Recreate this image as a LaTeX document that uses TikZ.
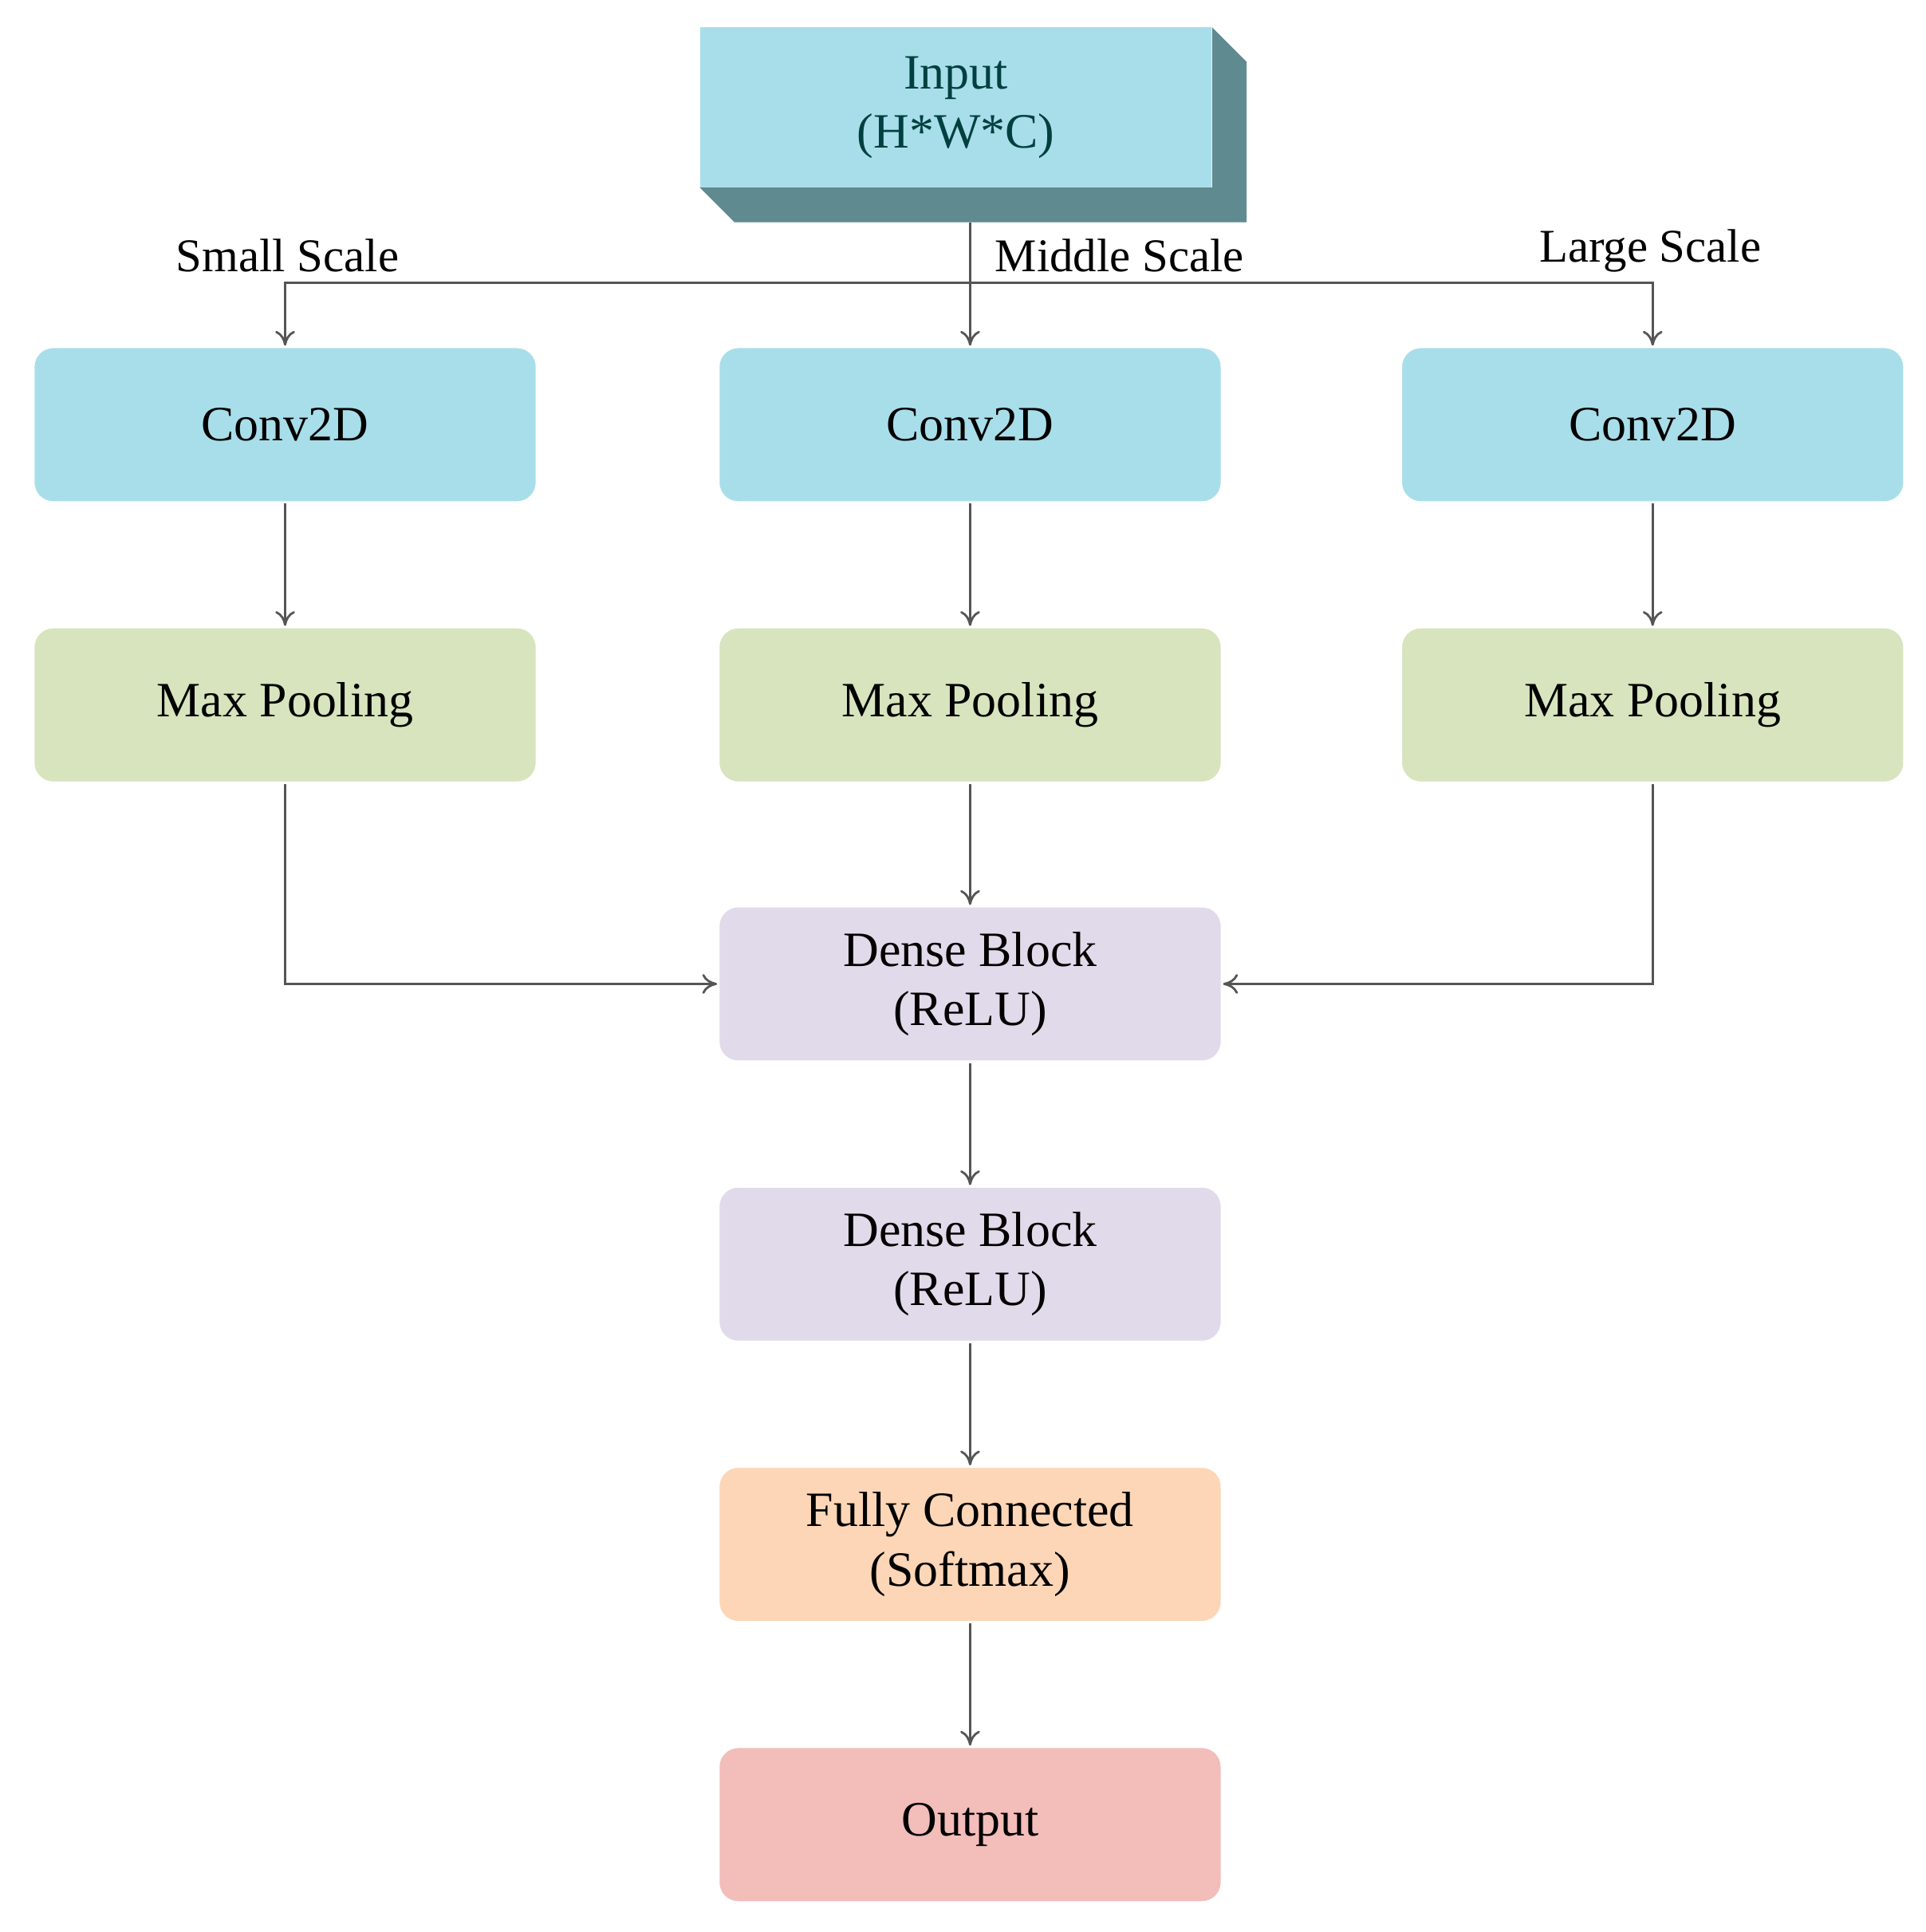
\documentclass[tikz,border=0pt]{standalone}
\usepackage{fontspec}
\setmainfont{Liberation Serif}
\usetikzlibrary{arrows.meta}
\definecolor{cy}{HTML}{A8DEEA}
\definecolor{gr}{HTML}{D7E4BD}
\definecolor{lv}{HTML}{E1DAEA}
\definecolor{pc}{HTML}{FCD6B6}
\definecolor{pk}{HTML}{F3BDBA}
\definecolor{sd}{HTML}{5F8A90}
\definecolor{ln}{HTML}{555555}
\begin{document}
\begin{tikzpicture}[x=0.5pt,y=-0.5pt,
 box/.style={rounded corners=8pt,minimum width=204pt,minimum height=63pt,align=center,font=\fontsize{20}{24}\selectfont,draw=white,line width=1pt},
 ar/.style={draw=ln,line width=0.9pt,-{To[length=6pt,width=8pt]}},
 lab/.style={font=\fontsize{19}{22}\selectfont}]
\useasboundingbox (0,0) rectangle (1560,1565);
% input 3D box
\fill[sd] (567,152) -- (595,180) -- (1010,180) -- (1010,50) -- (982,22) -- (982,152) -- cycle;
\node[box,rounded corners=0pt,fill=cy,minimum width=207pt,minimum height=65pt,text=teal!50!black,draw=none] (in) at (774.5,87) {Input\\(H*W*C)};
\node[box,fill=cy] (c1) at (231,344) {Conv2D};
\node[box,fill=cy] (c2) at (786,344) {Conv2D};
\node[box,fill=cy] (c3) at (1339,344) {Conv2D};
\node[box,fill=gr] (m1) at (231,571) {Max Pooling};
\node[box,fill=gr] (m2) at (786,571) {Max Pooling};
\node[box,fill=gr] (m3) at (1339,571) {Max Pooling};
\node[box,fill=lv] (d1) at (786,797) {Dense Block\\(ReLU)};
\node[box,fill=lv] (d2) at (786,1024) {Dense Block\\(ReLU)};
\node[box,fill=pc] (fc) at (786,1251) {Fully Connected\\(Softmax)};
\node[box,fill=pk] (out) at (786,1478) {Output};
\coordinate (top) at (786,180);
\coordinate (jn) at (786,229);
\draw[draw=ln,line width=0.9pt] (top) -- (jn);
\draw[ar] (jn) -- (c2.north);
\draw[ar] (jn) -| (c1.north);
\draw[ar] (jn) -| (c3.north);
\node[lab] (s) at (233,207) {Small Scale};
\node[lab] (mi) at (907,207) {Middle Scale};
\node[lab] (l) at (1337,203) {Large Scale};
\draw[ar] (c1) -- (m1);
\draw[ar] (c2) -- (m2);
\draw[ar] (c3) -- (m3);
\draw[ar] (m2) -- (d1);
\draw[ar] (m1.south) |- (d1.west);
\draw[ar] (m3.south) |- (d1.east);
\draw[ar] (d1) -- (d2);
\draw[ar] (d2) -- (fc);
\draw[ar] (fc) -- (out);
\end{tikzpicture}
\end{document}
